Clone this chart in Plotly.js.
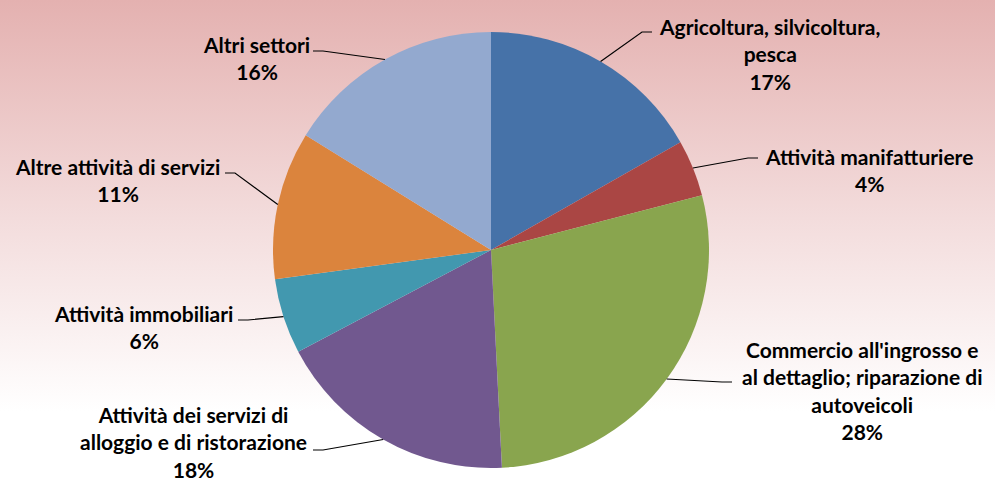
<!DOCTYPE html>
<html>
<head>
<meta charset="utf-8">
<script src="https://cdn.plot.ly/plotly-3.0.1.min.js"></script>
<style>
  html, body { margin:0; padding:0; }
  body { width:995px; height:484px; overflow:hidden;
         background: linear-gradient(to bottom, #E4B1B0 0%, #F3DCDC 45%, #FFFFFF 85%, #FFFFFF 100%); }
  #chart { width:995px; height:484px; }
</style>
</head>
<body>
<div id="chart"></div>
<script>
// ---- data ----
const categories = [
  "Agricoltura, silvicoltura,<br>pesca",
  "Attività manifatturiere",
  "Commercio all'ingrosso e<br>al dettaglio; riparazione di<br>autoveicoli",
  "Attività dei servizi di<br>alloggio e di ristorazione",
  "Attività immobiliari",
  "Altre attività di servizi",
  "Altri settori"
];
const shares = [16.8, 4.2, 28.3, 18.1, 5.6, 11.0, 16.2];
const colors = ["#4672A8", "#AA4644", "#89A54E", "#71588F", "#4298AF", "#DB843D", "#93A9CF"];

// ---- layout helpers (pixels in the 995x484 canvas) ----
const W = 995, H = 484;
const cx = 491, cy = 250, R = 218;
// label block centres and leader-line end points near the label
const labelPos = [
  {x: 770, y: 54,  ex: 652, ey: 32,  side: 1},
  {x: 869, y: 170, ex: 758, ey: 158, side: 1},
  {x: 862, y: 390, ex: 732, ey: 382, side: 1},
  {x: 193, y: 442, ex: 313, ey: 450, side: -1},
  {x: 143, y: 327, ex: 238, ey: 320, side: -1},
  {x: 117, y: 180, ex: 225, ey: 173, side: -1},
  {x: 256, y: 58,  ex: 313, ey: 51,  side: -1}
];

const total = shares.reduce((a, b) => a + b, 0);
const px = x => x / W, py = y => 1 - y / H;

const annotations = [], shapes = [];
let cum = 0;
shares.forEach((v, i) => {
  const mid = (cum + v / 2) / total * 2 * Math.PI;
  cum += v;
  const exEdge = cx + R * Math.sin(mid), eyEdge = cy - R * Math.cos(mid);
  const L = labelPos[i];
  const bx = L.ex - L.side * 10;
  shapes.push({
    type: 'path', xref: 'paper', yref: 'paper',
    path: `M ${px(exEdge)} ${py(eyEdge)} L ${px(bx)} ${py(L.ey)} L ${px(L.ex)} ${py(L.ey)}`,
    line: {color: '#000000', width: 1.2}
  });
  annotations.push({
    xref: 'paper', yref: 'paper', x: px(L.x), y: py(L.y),
    xanchor: 'center', yanchor: 'middle', align: 'center', showarrow: false,
    text: categories[i] + '<br>' + Math.round(v / total * 100) + '%',
    font: {family: 'Lato, "Open Sans", sans-serif', size: 21, color: '#000000', weight: 'bold'}
  });
});

const trace = {
  type: 'pie',
  values: shares,
  labels: categories,
  sort: false,
  direction: 'clockwise',
  rotation: 0,
  textinfo: 'none',
  hoverinfo: 'label+percent',
  marker: {colors: colors, line: {width: 0}},
  domain: {x: [(cx - R) / W, (cx + R) / W], y: [1 - (cy + R) / H, 1 - (cy - R) / H]},
  showlegend: false
};

const layout = {
  width: W, height: H,
  margin: {l: 0, r: 0, t: 0, b: 0},
  paper_bgcolor: 'rgba(0,0,0,0)',
  plot_bgcolor: 'rgba(0,0,0,0)',
  showlegend: false,
  annotations: annotations,
  shapes: shapes
};

Plotly.newPlot('chart', [trace], layout, {displayModeBar: false, staticPlot: true});
</script>
</body>
</html>
